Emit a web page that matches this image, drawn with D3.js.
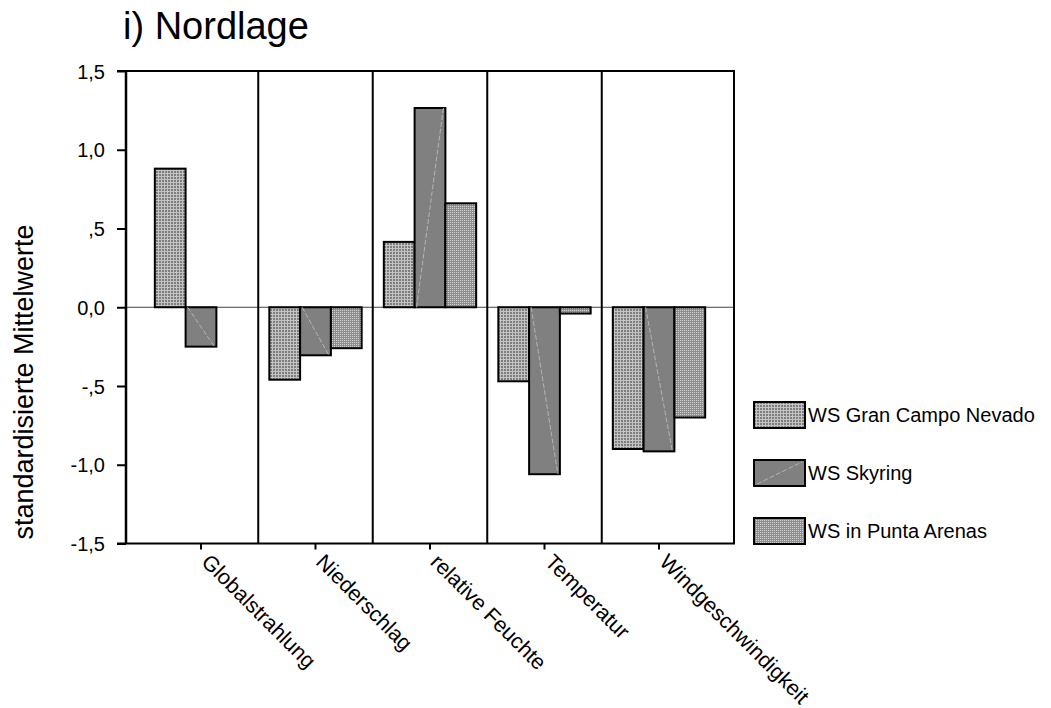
<!DOCTYPE html>
<html>
<head>
<meta charset="utf-8">
<script src="https://cdn.jsdelivr.net/npm/d3@7/dist/d3.min.js"></script>
<style>
  html, body { margin: 0; padding: 0; background: #fff; }
  svg { display: block; font-family: "Liberation Sans", Arial, sans-serif; }
</style>
</head>
<body>
<svg id="chart" width="1051" height="708"></svg>
<script>
// ---- data ----
const categories = ["Globalstrahlung", "Niederschlag", "relative Feuchte", "Temperatur", "Windgeschwindigkeit"];
const seriesNames = ["WS Gran Campo Nevado", "WS Skyring", "WS in Punta Arenas"];
const granCampoNevado = [0.88, -0.46, 0.415, -0.47, -0.90];
const skyring = [-0.25, -0.305, 1.265, -1.06, -0.915];
const puntaArenas = [null, -0.26, 0.66, -0.04, -0.70];
const yTickValues = [-1.5, -1.0, -0.5, 0, 0.5, 1.0, 1.5];
const yTickLabels = ["-1,5", "-1,0", "-,5", "0,0", ",5", "1,0", "1,5"];
const titleText = "i) Nordlage";
const yTitle = "standardisierte Mittelwerte";

const seriesValues = [granCampoNevado, skyring, puntaArenas];

(function () {
// ---- layout ----
const svg = d3.select("#chart");
const pLeft = 126, pRight = 734, pTop = 71, pBottom = 543.5;

const defs = svg.append("defs");
const pGrid = defs.append("pattern").attr("id", "pGrid").attr("patternUnits", "userSpaceOnUse")
  .attr("width", 3).attr("height", 3);
pGrid.append("rect").attr("width", 3).attr("height", 3).attr("fill", "#c4c4c4");
pGrid.append("rect").attr("width", 2).attr("height", 2).attr("fill", "#7e7e7e");

const pDots = defs.append("pattern").attr("id", "pDots").attr("patternUnits", "userSpaceOnUse")
  .attr("width", 2).attr("height", 2);
pDots.append("rect").attr("width", 2).attr("height", 2).attr("fill", "#8e8e8e");
pDots.append("rect").attr("width", 1).attr("height", 1).attr("fill", "#d0d0d0");

const fills = ["url(#pGrid)", "#808080", "url(#pDots)"];

const x = d3.scaleBand().domain(categories).range([pLeft, pRight]).paddingInner(0).paddingOuter(0.155);
const xs = d3.scaleBand().domain(seriesNames).range([0, x.bandwidth()]).paddingInner(0).paddingOuter(0.36);
const y = d3.scaleLinear().domain([-1.5, 1.5]).range([pBottom, pTop]);

// title
svg.append("text").attr("x", 123).attr("y", 39).attr("font-size", 38).attr("fill", "#000")
  .text(titleText);

// y axis title
svg.append("text")
  .attr("transform", `translate(33,382) rotate(-90)`)
  .attr("text-anchor", "middle").attr("font-size", 27).attr("fill", "#000")
  .text(yTitle);

// zero line
svg.append("line").attr("x1", pLeft).attr("x2", pRight).attr("y1", y(0)).attr("y2", y(0))
  .attr("stroke", "#444").attr("stroke-width", 1);

// bars
const barData = [];
categories.forEach((c, i) => {
  seriesNames.forEach((s, j) => {
    const v = seriesValues[j][i];
    if (v !== null && v !== undefined) barData.push({ c, s, j, v });
  });
});

const bars = svg.append("g");
bars.selectAll("rect").data(barData).join("rect")
  .attr("x", d => x(d.c) + xs(d.s))
  .attr("y", d => Math.min(y(d.v), y(0)))
  .attr("width", xs.bandwidth())
  .attr("height", d => Math.abs(y(d.v) - y(0)))
  .attr("fill", d => fills[d.j])
  .attr("stroke", "#000").attr("stroke-width", 2);

// Skyring diagonal light line
bars.selectAll("line.diag").data(barData.filter(d => d.j === 1)).join("line")
  .attr("class", "diag")
  .attr("x1", d => x(d.c) + xs(d.s) + 2).attr("y1", y(0))
  .attr("x2", d => x(d.c) + xs(d.s) + xs.bandwidth() - 2).attr("y2", d => y(d.v))
  .attr("stroke", "#b4b4b4").attr("stroke-width", 1).attr("stroke-dasharray", "5,2");

// category separators
const seps = categories.slice(0, -1).map(c => x(c) + x.bandwidth());
svg.append("g").selectAll("line").data(seps).join("line")
  .attr("x1", d => d).attr("x2", d => d).attr("y1", pTop).attr("y2", pBottom)
  .attr("stroke", "#000").attr("stroke-width", 2);

// frame: top & right
svg.append("line").attr("x1", pLeft - 9).attr("x2", pRight + 1).attr("y1", pTop).attr("y2", pTop)
  .attr("stroke", "#000").attr("stroke-width", 2);
svg.append("line").attr("x1", pRight).attr("x2", pRight).attr("y1", pTop).attr("y2", pBottom)
  .attr("stroke", "#000").attr("stroke-width", 2);

// y axis
const yAxis = d3.axisLeft(y).tickValues(yTickValues).tickSize(9).tickPadding(12)
  .tickFormat((d, i) => yTickLabels[i]);
const gy = svg.append("g").attr("transform", `translate(${pLeft},0)`).call(yAxis);
gy.select(".domain").attr("stroke-width", 2.5).attr("d", `M0,${pTop}V${pBottom}`);
gy.selectAll(".tick line").attr("stroke-width", 2);
gy.selectAll(".tick text").attr("font-size", 20).attr("font-family", "Liberation Sans, Arial, sans-serif")
  .attr("fill", "#000").attr("dy", "0.36em");

// x axis
const xAxis = d3.axisBottom(x).tickSize(6).tickSizeOuter(0);
const gx = svg.append("g").attr("transform", `translate(0,${pBottom})`).call(xAxis);
gx.select(".domain").attr("stroke-width", 2).attr("d", `M${pLeft - 9},0H${pRight + 1}`);
gx.selectAll(".tick line").attr("stroke-width", 2);
gx.selectAll(".tick text")
  .attr("font-size", 21.5).attr("font-family", "Liberation Sans, Arial, sans-serif").attr("fill", "#000")
  .attr("text-anchor", "start")
  .attr("transform", "translate(10,9) rotate(45)")
  .attr("x", 0).attr("y", 0).attr("dy", "0.7em");

// legend
const legend = svg.append("g");
const legY = [402, 460, 518];
seriesNames.forEach((s, j) => {
  const g = legend.append("g").attr("transform", `translate(754,${legY[j]})`);
  g.append("rect").attr("width", 51).attr("height", 26).attr("fill", fills[j])
    .attr("stroke", "#000").attr("stroke-width", 2);
  if (j === 1) {
    g.append("line").attr("x1", 3).attr("y1", 24).attr("x2", 48).attr("y2", 2)
      .attr("stroke", "#b4b4b4").attr("stroke-width", 1).attr("stroke-dasharray", "5,2");
  }
  g.append("text").attr("x", 54).attr("y", 20).attr("font-size", 20).attr("fill", "#000").text(s);
});
})();
</script>
</body>
</html>
